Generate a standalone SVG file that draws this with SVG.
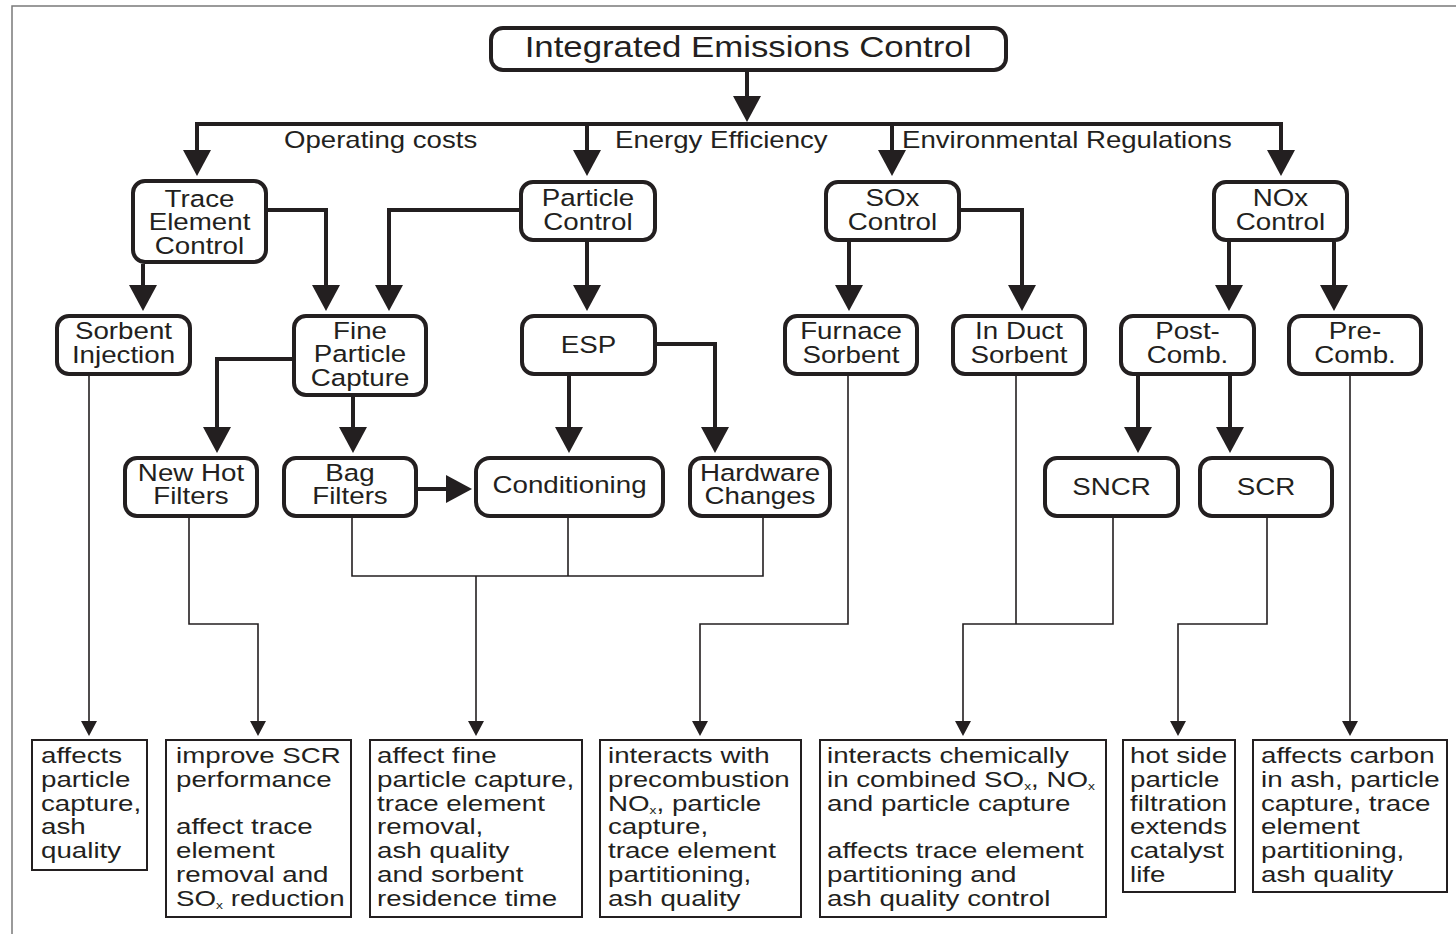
<svg xmlns="http://www.w3.org/2000/svg" width="1456" height="934" viewBox="0 0 1456 934">
<style>
.n{fill:#fff;stroke:#231f20;stroke-width:4}
.b{fill:#fff;stroke:#231f20;stroke-width:2}
.t{font-family:"Liberation Sans",Arial,Helvetica,sans-serif;fill:#231f20}
.nl{font-size:23.5px;text-anchor:middle}
.bl{font-size:22px}
.el{font-size:23px}
.sub{font-size:11px}
.thick{fill:none;stroke:#231f20;stroke-width:4;stroke-linejoin:miter}
.thin{fill:none;stroke:#231f20;stroke-width:1.6}
</style>
<defs>
<marker id="big" markerUnits="userSpaceOnUse" markerWidth="27" markerHeight="28" viewBox="0 0 27 28" refX="22" refY="14" orient="auto">
<path d="M0,0 L26,14 L0,28 z" fill="#231f20"/>
</marker>
<marker id="small" markerUnits="userSpaceOnUse" markerWidth="16" markerHeight="16" viewBox="0 0 16 16" refX="13" refY="8" orient="auto">
<path d="M0,0 L15,8 L0,16 z" fill="#231f20"/>
</marker>
</defs>
<rect width="1456" height="934" fill="#fff"/>
<path d="M12,934 V6 H1456" fill="none" stroke="#7a7a7a" stroke-width="1.5"/>

<g id="connectors">
<path class="thick" d="M747,72 V118" marker-end="url(#big)"/>
<path class="thick" d="M747,124 H197 V172" marker-end="url(#big)"/>
<path class="thick" d="M747,124 H1281 V172" marker-end="url(#big)"/>
<path class="thick" d="M587,124 V172" marker-end="url(#big)"/>
<path class="thick" d="M892,124 V172" marker-end="url(#big)"/>

<path class="thick" d="M143,264 V307" marker-end="url(#big)"/>
<path class="thick" d="M268,210 H326 V307" marker-end="url(#big)"/>
<path class="thick" d="M519,210 H389 V307" marker-end="url(#big)"/>
<path class="thick" d="M587,242 V307" marker-end="url(#big)"/>
<path class="thick" d="M849,242 V307" marker-end="url(#big)"/>
<path class="thick" d="M961,210 H1022 V307" marker-end="url(#big)"/>
<path class="thick" d="M1229,242 V307" marker-end="url(#big)"/>
<path class="thick" d="M1334,242 V307" marker-end="url(#big)"/>

<path class="thick" d="M292,359 H217 V449" marker-end="url(#big)"/>
<path class="thick" d="M353,397 V449" marker-end="url(#big)"/>
<path class="thick" d="M569,376 V449" marker-end="url(#big)"/>
<path class="thick" d="M657,344 H715 V449" marker-end="url(#big)"/>
<path class="thick" d="M1138,376 V449" marker-end="url(#big)"/>
<path class="thick" d="M1230,376 V449" marker-end="url(#big)"/>
<path class="thick" d="M418,489 H468" marker-end="url(#big)"/>

<path class="thin" d="M89,376 V734" marker-end="url(#small)"/>
<path class="thin" d="M189,518 V624 H258 V734" marker-end="url(#small)"/>
<path class="thin" d="M352,518 V576 H763 V518"/>
<path class="thin" d="M568,518 V576"/>
<path class="thin" d="M476,576 V734" marker-end="url(#small)"/>
<path class="thin" d="M848,376 V624 H700 V734" marker-end="url(#small)"/>
<path class="thin" d="M1016,376 V624"/>
<path class="thin" d="M1113,518 V624 H963 V734" marker-end="url(#small)"/>
<path class="thin" d="M1267,518 V624 H1178 V734" marker-end="url(#small)"/>
<path class="thin" d="M1350,376 V734" marker-end="url(#small)"/>
</g>

<g id="edge-labels" class="t el">
<text transform="translate(284,148) scale(1.2,1)">Operating costs</text>
<text transform="translate(615,148) scale(1.2,1)">Energy Efficiency</text>
<text transform="translate(902,148) scale(1.2,1)">Environmental Regulations</text>
</g>

<g id="n-top">
<rect class="n" x="491" y="28" width="515" height="42" rx="12"/>
<text class="t" font-size="29.5" text-anchor="middle" transform="translate(748,57) scale(1.18,1)">Integrated Emissions Control</text>
</g>

<g id="n-trace">
<rect class="n" x="133" y="181" width="133" height="81" rx="12"/>
<text class="t nl" transform="translate(199.5,207) scale(1.18,1)"><tspan x="0" y="0">Trace</tspan><tspan x="0" y="23.3">Element</tspan><tspan x="0" y="46.6">Control</tspan></text>
</g>
<g id="n-particle">
<rect class="n" x="521" y="182" width="134" height="58" rx="12"/>
<text class="t nl" transform="translate(588,206) scale(1.18,1)"><tspan x="0" y="0">Particle</tspan><tspan x="0" y="24">Control</tspan></text>
</g>
<g id="n-sox">
<rect class="n" x="826" y="182" width="133" height="58" rx="12"/>
<text class="t nl" transform="translate(892.5,206) scale(1.18,1)"><tspan x="0" y="0">SOx</tspan><tspan x="0" y="24">Control</tspan></text>
</g>
<g id="n-nox">
<rect class="n" x="1214" y="182" width="133" height="58" rx="12"/>
<text class="t nl" transform="translate(1280.5,206) scale(1.18,1)"><tspan x="0" y="0">NOx</tspan><tspan x="0" y="24">Control</tspan></text>
</g>

<g id="n-sorbent-inj">
<rect class="n" x="57" y="316" width="133" height="58" rx="12"/>
<text class="t nl" transform="translate(123.5,339) scale(1.18,1)"><tspan x="0" y="0">Sorbent</tspan><tspan x="0" y="24">Injection</tspan></text>
</g>
<g id="n-fine">
<rect class="n" x="294" y="316" width="132" height="79" rx="12"/>
<text class="t nl" transform="translate(360,339) scale(1.18,1)"><tspan x="0" y="0">Fine</tspan><tspan x="0" y="23.5">Particle</tspan><tspan x="0" y="47">Capture</tspan></text>
</g>
<g id="n-esp">
<rect class="n" x="522" y="316" width="133" height="58" rx="12"/>
<text class="t nl" transform="translate(588.5,353) scale(1.18,1)">ESP</text>
</g>
<g id="n-furnace">
<rect class="n" x="785" y="316" width="132" height="58" rx="12"/>
<text class="t nl" transform="translate(851,339) scale(1.18,1)"><tspan x="0" y="0">Furnace</tspan><tspan x="0" y="24">Sorbent</tspan></text>
</g>
<g id="n-induct">
<rect class="n" x="953" y="316" width="132" height="58" rx="12"/>
<text class="t nl" transform="translate(1019,339) scale(1.18,1)"><tspan x="0" y="0">In Duct</tspan><tspan x="0" y="24">Sorbent</tspan></text>
</g>
<g id="n-post">
<rect class="n" x="1121" y="316" width="133" height="58" rx="12"/>
<text class="t nl" transform="translate(1187.5,339) scale(1.18,1)"><tspan x="0" y="0">Post-</tspan><tspan x="0" y="24">Comb.</tspan></text>
</g>
<g id="n-pre">
<rect class="n" x="1289" y="316" width="132" height="58" rx="12"/>
<text class="t nl" transform="translate(1355,339) scale(1.18,1)"><tspan x="0" y="0">Pre-</tspan><tspan x="0" y="24">Comb.</tspan></text>
</g>

<g id="n-newhot">
<rect class="n" x="125" y="458" width="132" height="58" rx="12"/>
<text class="t nl" transform="translate(191,481) scale(1.18,1)"><tspan x="0" y="0">New Hot</tspan><tspan x="0" y="23.5">Filters</tspan></text>
</g>
<g id="n-bag">
<rect class="n" x="284" y="458" width="132" height="58" rx="12"/>
<text class="t nl" transform="translate(350,481) scale(1.18,1)"><tspan x="0" y="0">Bag</tspan><tspan x="0" y="23.5">Filters</tspan></text>
</g>
<g id="n-cond">
<rect class="n" x="476" y="458" width="187" height="58" rx="14"/>
<text class="t nl" transform="translate(569.5,493) scale(1.18,1)">Conditioning</text>
</g>
<g id="n-hardware">
<rect class="n" x="690" y="458" width="140" height="58" rx="12"/>
<text class="t nl" transform="translate(760,481) scale(1.18,1)"><tspan x="0" y="0">Hardware</tspan><tspan x="0" y="23.5">Changes</tspan></text>
</g>
<g id="n-sncr">
<rect class="n" x="1045" y="458" width="133" height="58" rx="12"/>
<text class="t nl" transform="translate(1111.5,495) scale(1.18,1)">SNCR</text>
</g>
<g id="n-scr">
<rect class="n" x="1200" y="458" width="132" height="58" rx="12"/>
<text class="t nl" transform="translate(1266,495) scale(1.18,1)">SCR</text>
</g>

<g id="b1">
<rect class="b" x="32" y="740" width="115" height="130"/>
<text class="t bl" transform="translate(41,763) scale(1.26,1)"><tspan x="0" y="0">affects</tspan><tspan x="0" y="23.8">particle</tspan><tspan x="0" y="47.6">capture,</tspan><tspan x="0" y="71.4">ash</tspan><tspan x="0" y="95.2">quality</tspan></text>
</g>
<g id="b2">
<rect class="b" x="166" y="740" width="185" height="177"/>
<text class="t bl" transform="translate(176,763) scale(1.26,1)"><tspan x="0" y="0">improve SCR</tspan><tspan x="0" y="23.8">performance</tspan><tspan x="0" y="71.4">affect trace</tspan><tspan x="0" y="95.2">element</tspan><tspan x="0" y="119">removal and</tspan><tspan x="0" y="142.8">SO</tspan><tspan class="sub" dy="3">x</tspan><tspan dy="-3"> reduction</tspan></text>
</g>
<g id="b3">
<rect class="b" x="370" y="740" width="212" height="177"/>
<text class="t bl" transform="translate(377,763) scale(1.26,1)"><tspan x="0" y="0">affect fine</tspan><tspan x="0" y="23.8">particle capture,</tspan><tspan x="0" y="47.6">trace element</tspan><tspan x="0" y="71.4">removal,</tspan><tspan x="0" y="95.2">ash quality</tspan><tspan x="0" y="119">and sorbent</tspan><tspan x="0" y="142.8">residence time</tspan></text>
</g>
<g id="b4">
<rect class="b" x="600" y="740" width="201" height="177"/>
<text class="t bl" transform="translate(608,763) scale(1.26,1)"><tspan x="0" y="0">interacts with</tspan><tspan x="0" y="23.8">precombustion</tspan><tspan x="0" y="47.6">NO</tspan><tspan class="sub" dy="3">x</tspan><tspan dy="-3">, particle</tspan><tspan x="0" y="71.4">capture,</tspan><tspan x="0" y="95.2">trace element</tspan><tspan x="0" y="119">partitioning,</tspan><tspan x="0" y="142.8">ash quality</tspan></text>
</g>
<g id="b5">
<rect class="b" x="820" y="740" width="286" height="177"/>
<text class="t bl" transform="translate(827,763) scale(1.26,1)"><tspan x="0" y="0">interacts chemically</tspan><tspan x="0" y="23.8">in combined SO</tspan><tspan class="sub" dy="3">x</tspan><tspan dy="-3">, NO</tspan><tspan class="sub" dy="3">x</tspan><tspan x="0" y="47.6">and particle capture</tspan><tspan x="0" y="95.2">affects trace element</tspan><tspan x="0" y="119">partitioning and</tspan><tspan x="0" y="142.8">ash quality control</tspan></text>
</g>
<g id="b6">
<rect class="b" x="1123" y="740" width="112" height="152"/>
<text class="t bl" transform="translate(1130,763) scale(1.26,1)"><tspan x="0" y="0">hot side</tspan><tspan x="0" y="23.8">particle</tspan><tspan x="0" y="47.6">filtration</tspan><tspan x="0" y="71.4">extends</tspan><tspan x="0" y="95.2">catalyst</tspan><tspan x="0" y="119">life</tspan></text>
</g>
<g id="b7">
<rect class="b" x="1253" y="740" width="194" height="152"/>
<text class="t bl" transform="translate(1261,763) scale(1.26,1)"><tspan x="0" y="0">affects carbon</tspan><tspan x="0" y="23.8">in ash, particle</tspan><tspan x="0" y="47.6">capture, trace</tspan><tspan x="0" y="71.4">element</tspan><tspan x="0" y="95.2">partitioning,</tspan><tspan x="0" y="119">ash quality</tspan></text>
</g>
</svg>
